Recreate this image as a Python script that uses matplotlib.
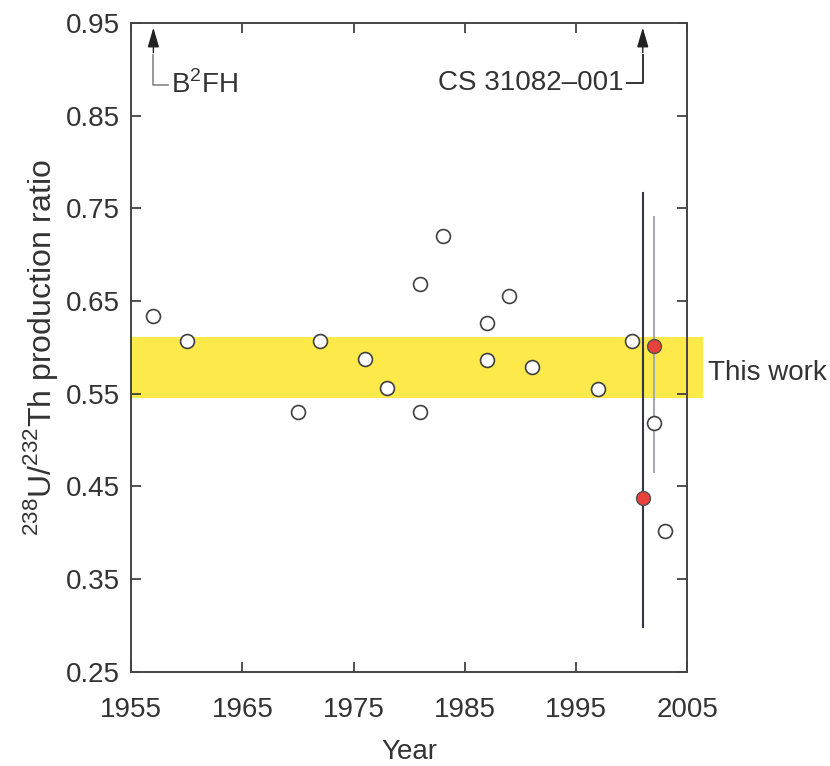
import matplotlib
matplotlib.use('Agg')
import matplotlib.pyplot as plt
import numpy as np

plt.rcParams['font.family'] = ['Liberation Sans Narrow', 'Liberation Sans', 'DejaVu Sans']
plt.rcParams['mathtext.fontset'] = 'custom'
plt.rcParams['mathtext.rm'] = 'Liberation Sans'

# previous determinations (open circles)
years_open = [1957, 1960, 1970, 1972, 1976, 1978, 1981, 1981, 1983, 1987, 1987,
              1989, 1991, 1997, 2000, 2002, 2003]
ratio_open = [0.634, 0.607, 0.530, 0.607, 0.588, 0.556, 0.530, 0.668, 0.720,
              0.626, 0.586, 0.655, 0.579, 0.555, 0.607, 0.518, 0.402]

# this work (red)
years_red = [2001, 2002]
ratio_red = [0.437, 0.601]

# error bars
err_years = [2001, 2002]
err_low = [0.298, 0.466]
err_high = [0.767, 0.741]
err_colors = ['#33334a', '#a8aca8']

band_low, band_high = 0.545, 0.611

fig = plt.figure(figsize=(8.3, 7.66), dpi=100)
ax = fig.add_axes([0.158, 0.123, 0.670, 0.847])

ax.fill_between([1955, 2006.4], band_low, band_high, color='#fde94a', lw=0,
                clip_on=False, zorder=1)

for x, lo, hi, c in zip(err_years, err_low, err_high, err_colors):
    ax.plot([x, x], [lo, hi], color=c, lw=1.5, zorder=2)

ax.plot(years_open, ratio_open, 'o', ms=10, mfc='white', mec='#404040', mew=1.2, zorder=3)
ax.plot(years_red, ratio_red, 'o', ms=10, mfc='#e8403a', mec='#505050', mew=1.0, zorder=4)

ax.set_xlim(1955, 2005)
ax.set_ylim(0.25, 0.95)
ax.set_xticks(np.arange(1955, 2006, 10))
ax.set_yticks(np.arange(0.25, 0.96, 0.1))
ax.set_yticklabels(['%.2f' % v for v in np.arange(0.25, 0.96, 0.1)])
ax.tick_params(direction='in', length=7, width=1.2, top=True, right=True,
               labelsize=20, colors='#333333')
ax.tick_params(axis='x', pad=18)
ax.tick_params(axis='y', pad=8)
for s in ax.spines.values():
    s.set_color('#444444')
    s.set_linewidth(1.4)

ax.set_xlabel('Year', fontsize=20, color='#333333', labelpad=12)
ax.set_ylabel(r'$^{238}$U/$^{232}$Th production ratio', fontsize=23,
              color='#333333', labelpad=4)

# B2FH arrow
ax.annotate('', xy=(1957, 0.948), xytext=(1957, 0.915),
            arrowprops=dict(arrowstyle='-|>,head_width=0.35,head_length=1.2',
                            color='#222222', lw=1), zorder=5)
ax.plot([1957, 1957, 1958.3], [0.915, 0.883, 0.883], color='#888888', lw=1.2)
ax.text(1958.6, 0.883, r'B$^2$FH', fontsize=20, color='#333333', va='center', ha='left')

# CS 31082-001 arrow
ax.annotate('', xy=(2001, 0.948), xytext=(2001, 0.915),
            arrowprops=dict(arrowstyle='-|>,head_width=0.35,head_length=1.2',
                            color='#222222', lw=1), zorder=5)
ax.plot([2001, 2001, 1999.6], [0.915, 0.885, 0.885], color='#333333', lw=1.4)
ax.text(1999.3, 0.885, 'CS 31082\u2013001', fontsize=20, color='#333333',
        va='center', ha='right')

ax.text(2006.9, 0.572, 'This work', fontsize=20, color='#333333', va='center',
        ha='left', clip_on=False)

fig.savefig('out.png', dpi=100)
